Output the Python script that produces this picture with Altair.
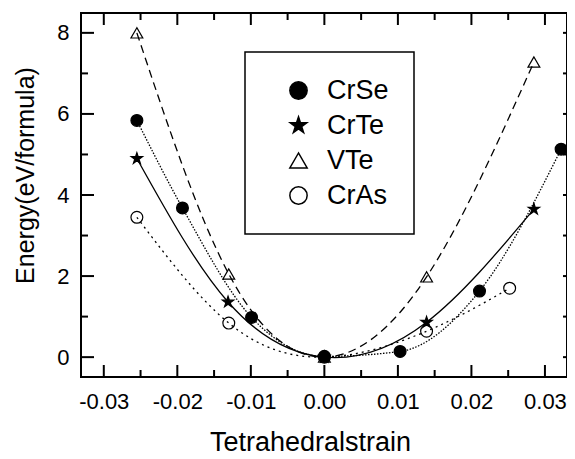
import altair as alt
import pandas as pd

compounds = ["CrSe", "CrTe", "VTe", "CrAs"]

crse_x = [-0.0255, -0.0193, -0.0099, 0.0, 0.0103, 0.0211, 0.0322]
crse_y = [5.84, 3.68, 0.98, 0.02, 0.14, 1.63, 5.13]
crte_x = [-0.0255, -0.0131, 0.0, 0.0139, 0.0285]
crte_y = [4.90, 1.36, 0.0, 0.86, 3.65]
vte_x = [-0.0255, -0.0130, 0.0, 0.0139, 0.0285]
vte_y = [8.00, 2.05, 0.0, 1.98, 7.28]
cras_x = [-0.0255, -0.0130, 0.0, 0.0139, 0.0252]
cras_y = [3.45, 0.84, 0.0, 0.64, 1.70]

x_major = [-0.03, -0.02, -0.01, 0.0, 0.01, 0.02, 0.03]
x_minor = [-0.025, -0.015, -0.005, 0.005, 0.015, 0.025]
y_major = [0, 2, 4, 6, 8]
y_minor = [1, 3, 5, 7]
y_all = [0, 1, 2, 3, 4, 5, 6, 7, 8]

series = {
    "CrSe": (crse_x, crse_y),
    "CrTe": (crte_x, crte_y),
    "VTe": (vte_x, vte_y),
    "CrAs": (cras_x, cras_y),
}
frames = []
for name in compounds:
    xs, ys = series[name]
    frames.append(pd.DataFrame({"compound": name, "x": xs, "y": ys}))
df = pd.concat(frames, ignore_index=True)

FONT = "Liberation Sans"
W, H = 486, 364
STAR = ("M0,-1L0.2245,-0.309L0.951,-0.309L0.363,0.118L0.588,0.809L0,0.382"
        "L-0.588,0.809L-0.363,0.118L-0.951,-0.309L-0.2245,-0.309Z")

xscale = alt.Scale(domain=[-0.0331, 0.033], nice=False, zero=False)
yscale = alt.Scale(domain=[-0.49, 8.49], nice=False, zero=False)

X_AXIS = alt.Axis(
    orient="bottom", values=x_major, tickSize=0, domain=False, grid=False,
    labelExpr="(datum.value < 0 ? '-' : '') + format(abs(datum.value), '.2f')",
    labelFontSize=22, labelFont=FONT, labelColor="black", labelPadding=14,
    title="Tetrahedralstrain", titleFontSize=27, titleFont=FONT,
    titleFontWeight="normal", titleColor="black", titlePadding=17, titleX=229)
Y_AXIS = alt.Axis(
    orient="left", values=y_major, tickSize=0, domain=False, grid=False,
    format="d", labelFontSize=22, labelFont=FONT, labelColor="black",
    labelPadding=12, title="Energy(eV/formula)", titleFontSize=25,
    titleFont=FONT, titleFontWeight="normal", titleColor="black",
    titlePadding=18, titleY=162)


def X(field):
    return alt.X(field, scale=xscale, axis=X_AXIS)


def Y(field):
    return alt.Y(field, scale=yscale, axis=Y_AXIS)


def xticks(values, center, length):
    return alt.Chart(pd.DataFrame({"v": values})).mark_tick(
        color="black", orient="vertical", size=length, thickness=2, opacity=1
    ).encode(x=X("v:Q"), y=alt.value(center))


def yticks(values, center, length):
    return alt.Chart(pd.DataFrame({"v": values})).mark_tick(
        color="black", orient="horizontal", size=length, thickness=2, opacity=1
    ).encode(y=Y("v:Q"), x=alt.value(center))


tick_layers = [
    xticks(x_major, H - 6, 12),
    xticks(x_minor, H - 3.5, 7),
    xticks(x_major, 6, 12),
    xticks(x_minor, 3.5, 7),
    yticks(y_major, 6.5, 13),
    yticks(y_minor, 3.5, 7),
    yticks(y_all, W - 2, 4),
]

line_styles = {
    "CrSe": dict(strokeDash=[1.5, 1.5], interpolate="monotone"),
    "CrTe": dict(interpolate="natural"),
    "VTe": dict(strokeDash=[8, 5], interpolate="natural"),
    "CrAs": dict(strokeDash=[2, 4], interpolate="natural"),
}
line_layers = []
for name in compounds:
    line_layers.append(
        alt.Chart(df[df["compound"] == name]).mark_line(
            color="black", strokeWidth=1.3, **line_styles[name]
        ).encode(x=X("x:Q"), y=Y("y:Q"))
    )

legend = alt.Legend(
    orient="none", legendX=164, legendY=39, title=None,
    strokeColor="black", fillColor="white",
    padding=25, labelFontSize=27, labelFont=FONT, labelColor="black",
    symbolSize=300, symbolStrokeWidth=1.5,
    rowPadding=7, symbolOffset=15, labelOffset=15,
)

points = alt.Chart(df).mark_point(
    filled=True, stroke="black", strokeWidth=1.2, size=140, opacity=1
).encode(
    x=X("x:Q"),
    y=Y("y:Q"),
    shape=alt.Shape("compound:N", scale=alt.Scale(
        domain=compounds, range=["circle", STAR, "triangle-up", "circle"]),
        legend=legend),
    fill=alt.Fill("compound:N", scale=alt.Scale(
        domain=compounds, range=["black", "black", "transparent", "transparent"]),
        legend=legend),
)

chart = alt.layer(
    *tick_layers, *line_layers, points
).properties(
    width=W, height=H,
    autosize=alt.AutoSizeParams(type="none"),
    padding={"left": 73, "top": 5, "right": 0, "bottom": 82},
).configure(
    font=FONT
).configure_view(
    stroke="black", strokeWidth=2
).configure_legend(
    strokeWidth=1.5
)

chart.save("out.html", embed_options={"renderer": "svg", "actions": False})
